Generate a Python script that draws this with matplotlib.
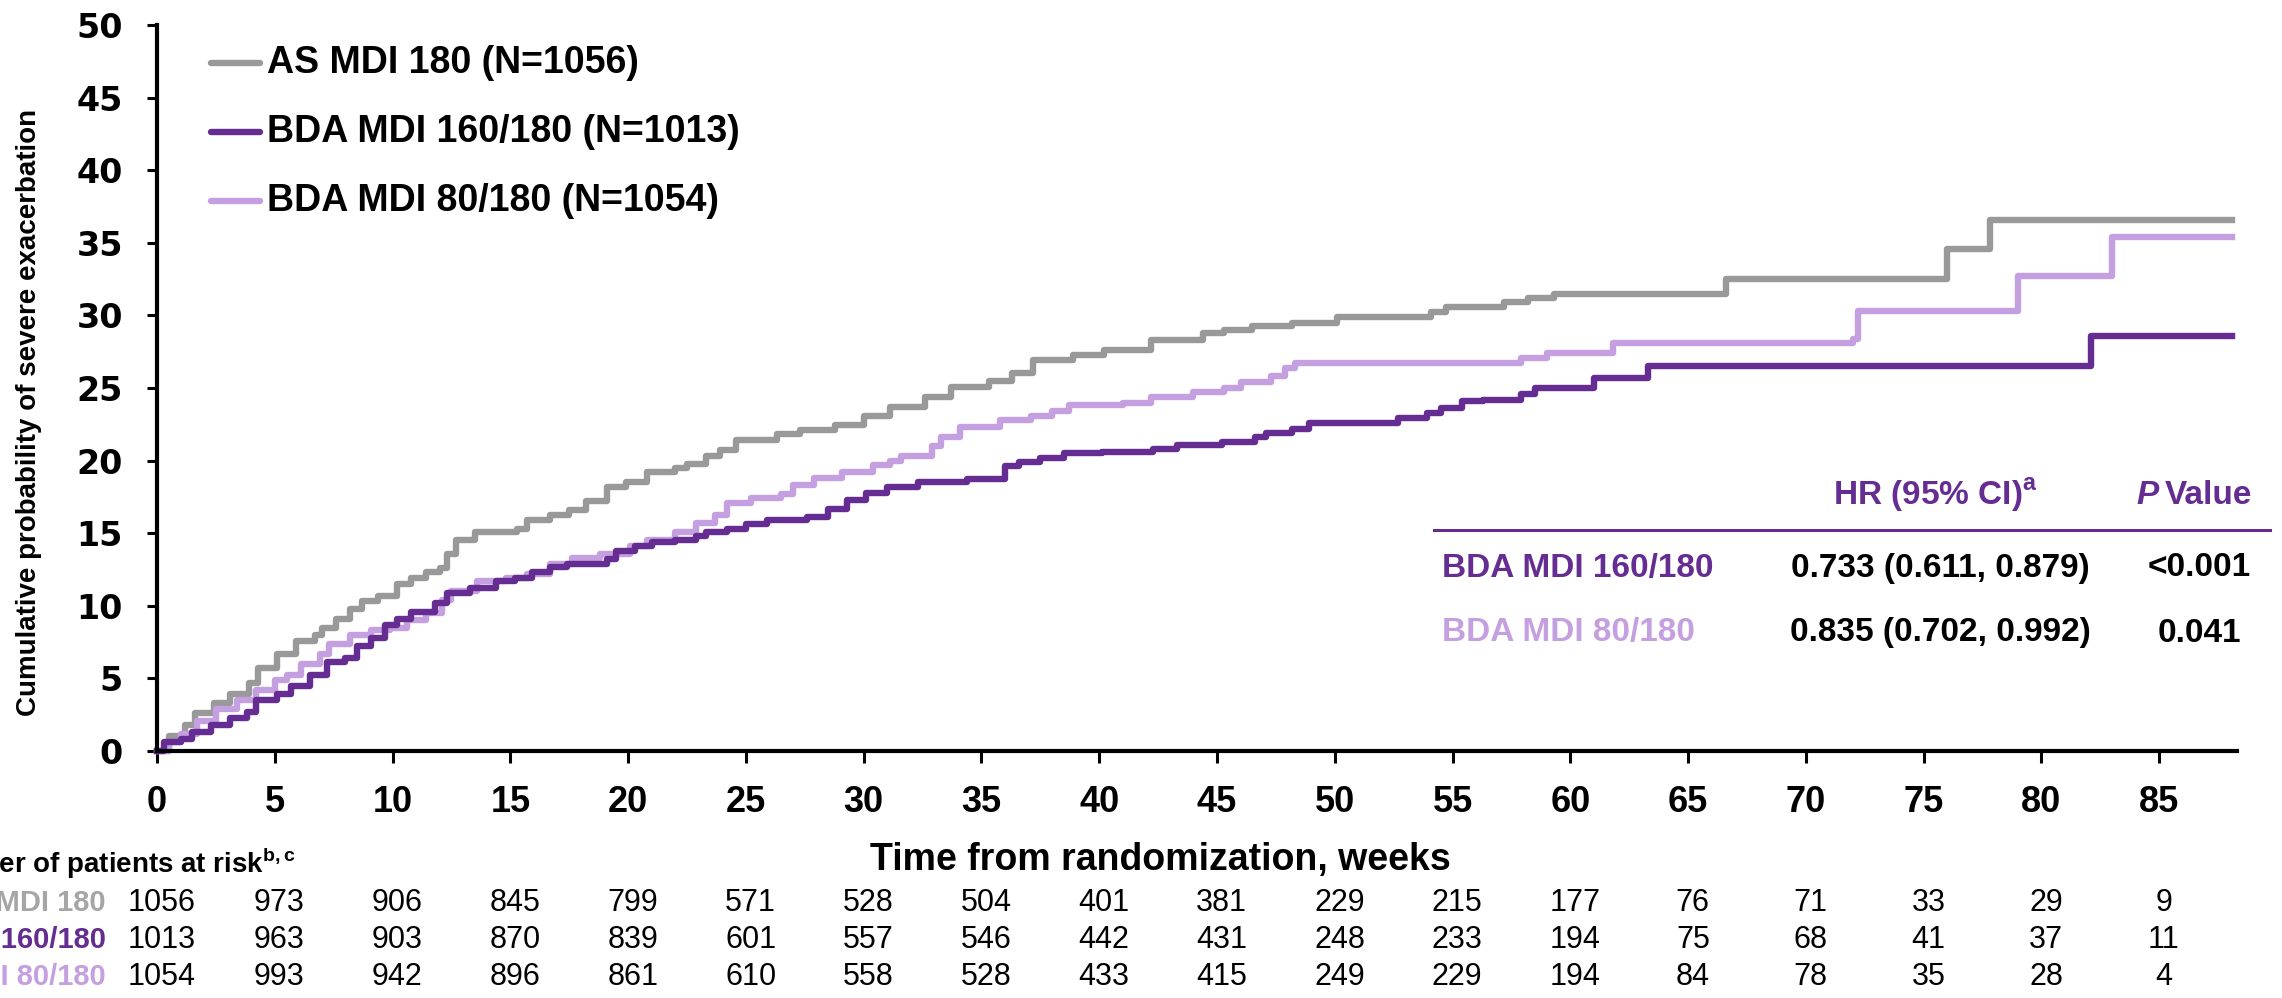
import matplotlib
matplotlib.use("Agg")
import matplotlib.pyplot as plt
from matplotlib.lines import Line2D
from matplotlib.transforms import blended_transform_factory

# ---- data ----
as_t = [0, 0.5, 1.2, 1.6, 2.4, 3.1, 3.9, 4.3, 5.1, 5.9, 6.7, 7.0, 7.6, 8.2, 8.7,
        9.4, 10.2, 10.8, 11.4, 12.0, 12.3, 12.7, 13.5, 15.3, 15.7, 16.7, 17.5, 18.2, 19.1, 19.9,
        20.8, 22.0, 22.5, 23.3, 23.9, 24.6, 26.3, 27.3, 28.8, 30.0, 31.1, 32.6, 33.7, 35.3, 36.3,
        37.2, 38.9, 40.2, 42.2, 44.4, 45.3, 46.5, 48.2, 50.1, 54.1, 54.7, 57.2, 58.2, 59.3, 66.6,
        76.0, 77.8, 88.1]
as_v = [0, 1.0, 1.8, 2.6, 3.3, 3.9, 4.7, 5.7, 6.7, 7.6, 8.0, 8.5, 9.1, 9.8, 10.3,
        10.7, 11.5, 11.9, 12.35, 12.6, 13.6, 14.5, 15.1, 15.3, 15.9, 16.25, 16.6, 17.2, 18.2, 18.5,
        19.2, 19.5, 19.8, 20.3, 20.7, 21.4, 21.8, 22.1, 22.45, 23.1, 23.7, 24.4, 25.1, 25.5, 26.0,
        26.9, 27.3, 27.6, 28.3, 28.8, 29.0, 29.3, 29.5, 29.9, 30.2, 30.6, 30.9, 31.2, 31.5, 32.5,
        34.6, 36.6, 36.6]

bda160_t = [0, 0.3, 1.0, 1.5, 2.3, 3.1, 3.8, 4.2, 5.1, 5.7, 6.5, 7.2, 8.0, 8.5, 9.1,
            9.7, 10.2, 10.8, 11.8, 12.3, 13.3, 14.4, 15.2, 15.9, 16.7, 17.4, 19.1, 19.5, 20.3, 21.0,
            22.0, 22.9, 23.3, 24.2, 25.0, 25.9, 27.6, 28.5, 29.3, 30.1, 31.0, 32.3, 34.4, 36.0, 36.6,
            37.5, 38.5, 40.1, 42.3, 43.3, 45.2, 46.6, 47.1, 48.2, 48.9, 52.7, 53.9, 54.5, 55.4, 56.3,
            57.9, 58.5, 61.0, 63.3, 82.1, 88.1]
bda160_v = [0, 0.6, 0.85, 1.3, 1.8, 2.25, 2.7, 3.5, 3.9, 4.5, 5.2, 6.15, 6.4, 7.2, 7.8,
            8.7, 9.1, 9.6, 10.2, 10.9, 11.2, 11.7, 11.9, 12.35, 12.7, 12.9, 13.2, 13.8, 14.1, 14.4,
            14.5, 14.8, 15.1, 15.3, 15.6, 15.9, 16.1, 16.7, 17.3, 17.8, 18.2, 18.5, 18.7, 19.6, 19.9,
            20.2, 20.5, 20.6, 20.8, 21.1, 21.3, 21.6, 21.9, 22.2, 22.6, 22.9, 23.3, 23.6, 24.1, 24.2,
            24.6, 25.0, 25.7, 26.5, 28.6, 28.6]

bda80_t = [0, 0.5, 1.0, 1.7, 2.5, 3.4, 4.2, 5.0, 5.5, 6.1, 6.9, 7.3, 8.2, 9.1, 9.9,
           10.6, 11.4, 12.1, 12.5, 13.6, 14.8, 15.7, 16.7, 17.6, 18.8, 20.1, 20.8, 22.0, 22.9, 23.7,
           24.2, 25.2, 26.5, 27.0, 27.9, 29.1, 30.4, 31.1, 31.6, 32.9, 33.3, 34.1, 35.8, 37.1, 38.0,
           38.7, 41.0, 42.2, 44.0, 45.3, 46.0, 47.3, 47.9, 48.3, 57.9, 59.0, 61.8, 72.0, 72.2, 79.0,
           83.0, 88.1]
bda80_v = [0, 0.6, 1.2, 2.1, 2.9, 3.5, 4.2, 4.9, 5.2, 6.0, 6.7, 7.4, 8.0, 8.3, 8.5,
           9.0, 9.5, 10.4, 11.0, 11.7, 11.9, 12.2, 12.9, 13.3, 13.6, 14.1, 14.5, 15.1, 15.7, 16.25,
           17.1, 17.4, 17.7, 18.3, 18.8, 19.2, 19.7, 20.0, 20.3, 21.0, 21.6, 22.3, 22.8, 23.1, 23.4,
           23.8, 24.0, 24.4, 24.7, 25.0, 25.4, 25.8, 26.4, 26.7, 27.1, 27.4, 28.1, 28.4, 30.3, 32.7,
           35.4, 35.4]

risk_weeks = list(range(0, 90, 5))
risk_as = [1056, 973, 906, 845, 799, 571, 528, 504, 401, 381, 229, 215, 177, 76, 71, 33, 29, 9]
risk_160 = [1013, 963, 903, 870, 839, 601, 557, 546, 442, 431, 248, 233, 194, 75, 68, 41, 37, 11]
risk_80 = [1054, 993, 942, 896, 861, 610, 558, 528, 433, 415, 249, 229, 194, 84, 78, 35, 28, 4]

legend_labels = ["AS MDI 180 (N=1056)", "BDA MDI 160/180 (N=1013)", "BDA MDI 80/180 (N=1054)"]
risk_labels = ["AS MDI 180", "BDA MDI 160/180", "BDA MDI 80/180"]
hr_labels = ["BDA MDI 160/180", "BDA MDI 80/180"]
hr_values = ["0.733 (0.611, 0.879)", "0.835 (0.702, 0.992)"]
p_values = ["<0.001", "0.041"]

GREY = "#999999"
DARK = "#652D91"
LIGHT = "#C4A0E0"
FONT = "Liberation Sans"

W, H = 2282, 998
fig = plt.figure(figsize=(W / 100, H / 100), dpi=100)
ax = fig.add_axes([157 / W, 1 - 751 / H, 2080 / W, 726 / H])

lw = 4.6
ax.plot(as_t, as_v, drawstyle="steps-post", color=GREY, lw=lw, clip_on=False)
ax.plot(bda80_t, bda80_v, drawstyle="steps-post", color=LIGHT, lw=lw, clip_on=False)
ax.plot(bda160_t, bda160_v, drawstyle="steps-post", color=DARK, lw=lw, clip_on=False)

ax.set_xlim(0, 88.3)
ax.set_ylim(0, 50)
ax.set_xticks(risk_weeks)
ax.set_yticks(range(0, 55, 5))
for s in ["top", "right"]:
    ax.spines[s].set_visible(False)
for s in ["left", "bottom"]:
    ax.spines[s].set_linewidth(3)
ax.tick_params(direction="out", width=2.2, color="black")
ax.tick_params(axis="y", length=7.5, pad=17)
ax.tick_params(axis="x", length=8.5, pad=16)
for lab in ax.get_yticklabels():
    lab.set_fontfamily("DejaVu Sans")
    lab.set_fontweight("bold")
    lab.set_fontsize(24)
for lab in ax.get_xticklabels():
    lab.set_fontfamily(FONT)
    lab.set_fontweight("bold")
    lab.set_fontsize(26)

ax.set_ylabel("Cumulative probability of severe exacerbation", fontsize=20,
              fontweight="bold", family=FONT)
ax.yaxis.set_label_coords((29 - 157) / 2080, 0.467)
ax.yaxis.label.set_va("center")
ax.set_xlabel("Time from randomization, weeks", fontsize=27, fontweight="bold", family=FONT)
ax.xaxis.set_label_coords((1160 - 157) / 2080, (751 - 860) / 726)
ax.xaxis.label.set_va("center")

# legend drawn by hand
for i, (lab, col) in enumerate(zip(legend_labels, [GREY, DARK, LIGHT])):
    y = 1 - (63 + 69 * i) / H
    fig.add_artist(Line2D([211 / W, 260 / W], [y, y], color=col, lw=lw,
                          solid_capstyle="round", transform=fig.transFigure))
    fig.text(267 / W, y, lab, fontsize=27, fontweight="bold", family=FONT,
             ha="left", va="center")

# HR table
fig.text(1935 / W, 1 - 495 / H, r"HR (95% CI)$^{\mathregular{a}}$", fontsize=24,
         fontweight="bold", family=FONT, color=DARK, ha="center", va="center")
fig.text(2136 / W, 1 - 495 / H, "P", fontsize=24, fontweight="bold", style="italic",
         family=FONT, color=DARK, ha="left", va="center")
fig.text(2252 / W, 1 - 495 / H, "Value", fontsize=24, fontweight="bold",
         family=FONT, color=DARK, ha="right", va="center")
fig.add_artist(Line2D([1434 / W, 2270 / W], [1 - 530 / H, 1 - 530 / H], color=DARK,
                      lw=2.2, transform=fig.transFigure))
for i, (lab, hr, p, col) in enumerate(zip(hr_labels, hr_values, p_values, [DARK, LIGHT])):
    y = 1 - (568 + 65 * i) / H
    fig.text(1442 / W, y, lab, fontsize=24, fontweight="bold", family=FONT,
             color=col, ha="left", va="center")
    fig.text(1940 / W, y, hr, fontsize=24, fontweight="bold", family=FONT,
             ha="center", va="center")
    fig.text(2199 / W, y, p, fontsize=24, fontweight="bold", family=FONT,
             ha="center", va="center")

# number at risk
fig.text(296 / W, 1 - 863 / H, r"Number of patients at risk$^{\mathregular{b,c}}$",
         fontsize=20, fontweight="bold", family=FONT, ha="right", va="center")
trans = blended_transform_factory(ax.transData, fig.transFigure)
for i, (lab, row, col) in enumerate(zip(risk_labels, [risk_as, risk_160, risk_80],
                                        [GREY, DARK, LIGHT])):
    y = 1 - (903 + 37 * i) / H
    fig.text(106 / W, y, lab, fontsize=21, fontweight="bold", family=FONT,
             color="#A6A6A6" if col == GREY else col, ha="right", va="center")
    for wk, n in zip(risk_weeks, row):
        ax.text(wk + 0.2, y, str(n), transform=trans, fontsize=22, family=FONT,
                ha="center", va="center", clip_on=False)

fig.savefig("out.png", dpi=100)
